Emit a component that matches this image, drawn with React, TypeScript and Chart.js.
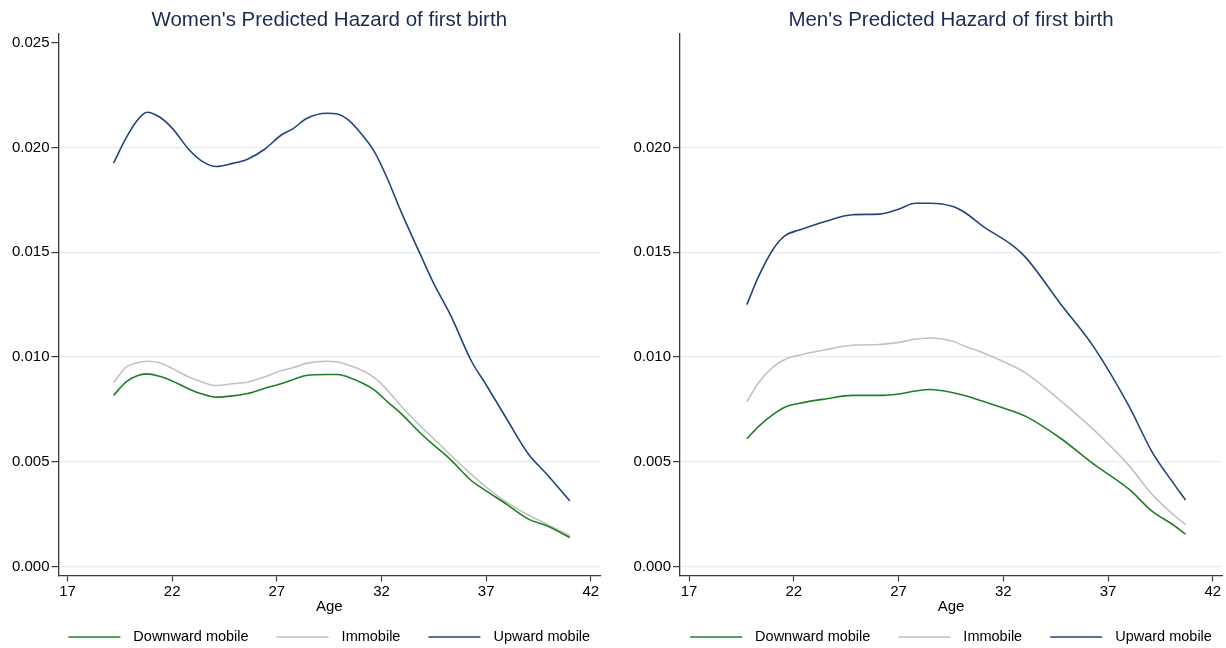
import { useEffect, useRef } from "react";
import { Chart, registerables } from "chart.js";

Chart.register(...registerables);

// Series shared by both panels
const SERIES_LABELS = ["Downward mobile", "Immobile", "Upward mobile"];
const SERIES_COLORS = ["#1f7f25", "#c2c2c2", "#21467a"];

// Axis ticks
const X_TICKS = [17, 22, 27, 32, 37, 42];
const WOMEN_Y_TICKS = [0, 0.005, 0.01, 0.015, 0.02, 0.025];
const MEN_Y_TICKS = [0, 0.005, 0.01, 0.015, 0.02];

// Women: predicted hazard of first birth by age
const womenAges = [
  19.2, 19.8, 20.3, 20.8, 21.4, 22.0, 22.8, 23.4, 24.1, 24.9, 25.6, 26.4, 27.2, 27.8, 28.4, 29.4,
  29.9, 30.4, 31.2, 31.7, 32.3, 32.9, 33.9, 34.5, 35.3, 36.3, 37.0, 38.0, 39.0, 39.9, 41.0,
];
const womenDownward = [
  0.00817, 0.00882, 0.0091, 0.0092, 0.00908, 0.00886, 0.00848, 0.00825, 0.00809, 0.00815, 0.00826,
  0.0085, 0.00873, 0.00893, 0.00912, 0.00917, 0.00917, 0.00905, 0.0087, 0.0084, 0.00785, 0.00734,
  0.00633, 0.0058, 0.00511, 0.0041, 0.00362, 0.00296, 0.00228, 0.00195, 0.00139,
];
const womenImmobile = [
  0.00877, 0.00952, 0.00972, 0.0098, 0.00973, 0.00946, 0.00905, 0.00882, 0.00864, 0.00873, 0.0088,
  0.00905, 0.00935, 0.0095, 0.0097, 0.0098, 0.00976, 0.00962, 0.0093, 0.00898, 0.0084, 0.0077,
  0.00667, 0.0061, 0.00533, 0.0044, 0.0038, 0.00306, 0.00248, 0.00203, 0.00148,
];
const womenUpward = [
  0.01925, 0.02045, 0.02125, 0.02168, 0.02145, 0.02092, 0.0199, 0.01936, 0.01909, 0.01924, 0.01944,
  0.0199, 0.02058, 0.02091, 0.02137, 0.02163, 0.02159, 0.02133, 0.02045, 0.01973, 0.01847, 0.01702,
  0.0148, 0.0135, 0.012, 0.0098, 0.00868, 0.00702, 0.0054, 0.00441, 0.00314,
];

// Men: predicted hazard of first birth by age
const menAges = [
  19.76, 20.3, 21.0, 21.6, 22.3, 23.5, 24.8, 26.1, 27.0, 27.8, 28.5, 29.6, 30.2, 31.0, 32.5, 33.1,
  34.7, 36.3, 38.0, 39.1, 40.1, 40.7,
];
const menDownward = [
  0.0061, 0.00667, 0.00725, 0.00762, 0.0078, 0.008, 0.00817, 0.00817, 0.00824, 0.00838, 0.00845,
  0.0083, 0.00815, 0.0079, 0.0074, 0.00716, 0.00615, 0.0049, 0.0037, 0.00265, 0.002, 0.00155,
];
const menImmobile = [
  0.00787, 0.00875, 0.00952, 0.0099, 0.0101, 0.01035, 0.01056, 0.0106, 0.0107, 0.01085, 0.01091,
  0.01075, 0.0105, 0.01022, 0.00955, 0.00922, 0.00795, 0.00655, 0.00482, 0.00345, 0.0025, 0.00202,
];
const menUpward = [
  0.0125, 0.0138, 0.01512, 0.0158, 0.01607, 0.01647, 0.01679, 0.01682, 0.01705, 0.01734, 0.01734,
  0.01718, 0.01687, 0.01626, 0.01528, 0.01472, 0.01258, 0.01051, 0.00766, 0.00548, 0.00401, 0.00318,
];

const FONT = "'Liberation Sans', Arial, Helvetica, sans-serif";
const TEXT_COLOR = "#000";
const CANVAS_W = 613;
const CANVAS_H = 648;

// Stata-style legend: long line sample, then label, centred under the plot area
const lineLegend = {
  id: "lineLegend",
  afterDraw(chart: any) {
    const { ctx, chartArea } = chart;
    const sampleW = 52;
    const gapText = 13;
    const gapItem = 28;
    const y = 637;
    ctx.save();
    ctx.font = `14.5px ${FONT}`;
    const items = chart.data.datasets.map((ds: any) => ({
      label: ds.label,
      color: ds.borderColor,
      w: ctx.measureText(ds.label).width,
    }));
    const total =
      items.reduce((s: number, it: any) => s + sampleW + gapText + it.w, 0) + gapItem * (items.length - 1);
    let x = (chartArea.left + chartArea.right) / 2 - total / 2;
    ctx.textBaseline = "middle";
    ctx.textAlign = "left";
    for (const it of items) {
      ctx.strokeStyle = it.color;
      ctx.lineWidth = 1.6;
      ctx.beginPath();
      ctx.moveTo(x, y);
      ctx.lineTo(x + sampleW, y);
      ctx.stroke();
      x += sampleW + gapText;
      ctx.fillStyle = TEXT_COLOR;
      ctx.fillText(it.label, x, y);
      x += it.w + gapItem;
    }
    ctx.restore();
  },
};

type PanelProps = {
  title: string;
  ages: number[];
  series: number[][];
  yTicks: number[];
  axisLeft: number;
  padRight: number;
};

function Panel({ title, ages, series, yTicks, axisLeft, padRight }: PanelProps) {
  const ref = useRef<HTMLCanvasElement | null>(null);

  useEffect(() => {
    if (!ref.current) return;
    const gridColor = "#e5ecf0";
    const axisColor = "#3a3a3a";
    const chart = new Chart(ref.current, {
      type: "line",
      data: {
        datasets: series.map((vals, i) => ({
          label: SERIES_LABELS[i],
          data: ages.map((a, j) => ({ x: a, y: vals[j] })),
          borderColor: SERIES_COLORS[i],
          backgroundColor: SERIES_COLORS[i],
          borderWidth: 1.6,
          pointRadius: 0,
          cubicInterpolationMode: "monotone" as const,
          fill: false,
        })),
      },
      options: {
        responsive: false,
        animation: false,
        layout: { padding: { left: 0, right: padRight, top: 0, bottom: 32 } },
        plugins: {
          legend: { display: false },
          tooltip: { enabled: false },
          title: {
            display: true,
            text: title,
            fullSize: false,
            color: "#1b2a55",
            font: { family: FONT, size: 20.5, weight: "normal" as const, lineHeight: 1.2 },
            padding: { top: 8, bottom: 1.4 },
          },
        },
        scales: {
          x: {
            type: "linear",
            min: 16.57,
            max: 42.44,
            afterBuildTicks: (scale: any) => {
              scale.ticks = X_TICKS.map((v) => ({ value: v }));
            },
            afterFit: (scale: any) => {
              scale.height = 40.5;
            },
            ticks: {
              color: TEXT_COLOR,
              font: { family: FONT, size: 15 },
              padding: 1,
              maxRotation: 0,
              autoSkip: false,
              callback: (v: any) => String(v),
            },
            grid: {
              drawOnChartArea: false,
              drawTicks: true,
              tickLength: 6,
              tickColor: axisColor,
              tickWidth: 1.2,
            },
            border: { display: true, color: axisColor, width: 1.3 },
            title: {
              display: true,
              text: "Age",
              color: TEXT_COLOR,
              font: { family: FONT, size: 15, lineHeight: 1.2 },
              padding: { top: 0, bottom: 0 },
            },
          },
          y: {
            type: "linear",
            min: -0.00042,
            max: 0.02541,
            afterBuildTicks: (scale: any) => {
              scale.ticks = yTicks.map((v) => ({ value: v }));
            },
            afterFit: (scale: any) => {
              scale.width = axisLeft;
            },
            ticks: {
              color: TEXT_COLOR,
              font: { family: FONT, size: 15 },
              padding: 2,
              autoSkip: false,
              callback: (v: any) => Number(v).toFixed(3),
            },
            grid: {
              color: (c: any) => (c.tick && c.tick.value > 0.0225 ? "rgba(0,0,0,0)" : gridColor),
              lineWidth: 1.2,
              drawTicks: true,
              tickLength: 7,
              tickColor: axisColor,
              tickWidth: 1.2,
            },
            border: { display: true, color: axisColor, width: 1.3 },
          },
        },
      },
      plugins: [lineLegend],
    });
    return () => chart.destroy();
  }, [title, ages, series, yTicks, axisLeft, padRight]);

  return <canvas ref={ref} width={CANVAS_W} height={CANVAS_H} style={{ display: "block" }} />;
}

export default function App() {
  return (
    <div
      style={{
        position: "absolute",
        left: 0,
        top: 0,
        width: CANVAS_W * 2,
        height: CANVAS_H,
        display: "flex",
        background: "#fff",
      }}
    >
      <Panel
        title="Women's Predicted Hazard of first birth"
        ages={womenAges}
        series={[womenDownward, womenImmobile, womenUpward]}
        yTicks={WOMEN_Y_TICKS}
        axisLeft={58.5}
        padRight={13}
      />
      <Panel
        title="Men's Predicted Hazard of first birth"
        ages={menAges}
        series={[menDownward, menImmobile, menUpward]}
        yTicks={MEN_Y_TICKS}
        axisLeft={67}
        padRight={4}
      />
    </div>
  );
}
